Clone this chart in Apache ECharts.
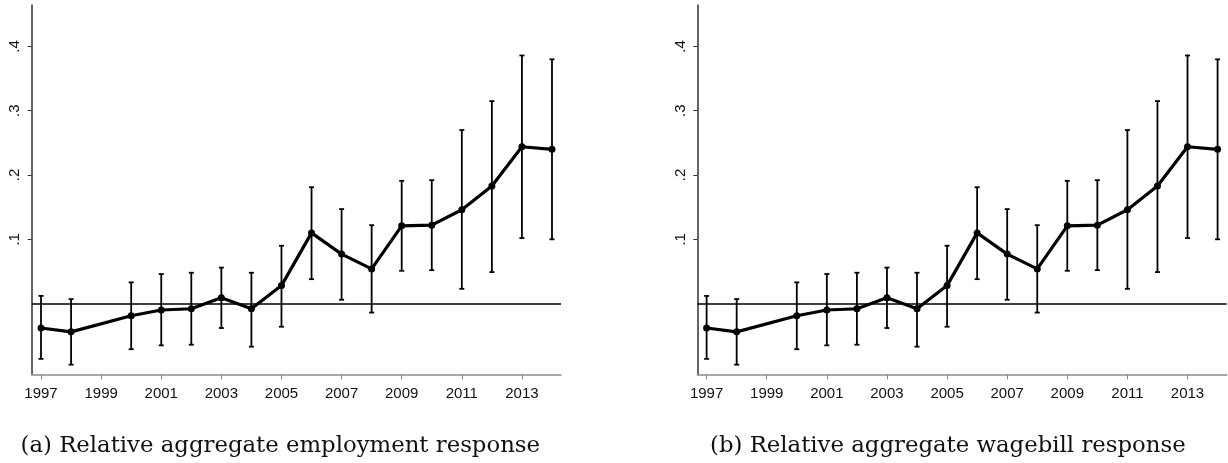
<!DOCTYPE html>
<html>
<head>
<meta charset="utf-8">
<script src="https://cdn.jsdelivr.net/npm/echarts@6/dist/echarts.min.js"></script>
<style>
  html, body { margin: 0; padding: 0; background: #fff; }
  #chart { width: 1228px; height: 463px; }
</style>
</head>
<body>
<div id="chart"></div>
<script>
// Event-study years (1999 is the omitted base year)
const years = [1997, 1998, 2000, 2001, 2002, 2003, 2004, 2005, 2006, 2007, 2008, 2009, 2010, 2011, 2012, 2013, 2014];

// (a) employment: point estimates and 95% confidence bounds
const empEstimate = [-0.038, -0.044, -0.019, -0.010, -0.008, 0.009, -0.008, 0.028, 0.110, 0.077, 0.054, 0.121, 0.122, 0.146, 0.183, 0.244, 0.240];
const empLower    = [-0.086, -0.095, -0.071, -0.065, -0.064, -0.038, -0.067, -0.036, 0.038, 0.006, -0.014, 0.051, 0.052, 0.023, 0.049, 0.102, 0.100];
const empUpper    = [0.012, 0.007, 0.033, 0.046, 0.048, 0.056, 0.048, 0.090, 0.181, 0.147, 0.122, 0.191, 0.192, 0.270, 0.315, 0.386, 0.380];

// (b) wagebill: point estimates and 95% confidence bounds
const wageEstimate = [-0.038, -0.044, -0.019, -0.010, -0.008, 0.009, -0.008, 0.028, 0.110, 0.077, 0.054, 0.121, 0.122, 0.146, 0.183, 0.244, 0.240];
const wageLower    = [-0.086, -0.095, -0.071, -0.065, -0.064, -0.038, -0.067, -0.036, 0.038, 0.006, -0.014, 0.051, 0.052, 0.023, 0.049, 0.102, 0.100];
const wageUpper    = [0.012, 0.007, 0.033, 0.046, 0.048, 0.056, 0.048, 0.090, 0.181, 0.147, 0.122, 0.191, 0.192, 0.270, 0.315, 0.386, 0.380];

// Axis ticks and labels
const xTickYears = [1997, 1999, 2001, 2003, 2005, 2007, 2009, 2011, 2013];
const yTickValues = [0.1, 0.2, 0.3, 0.4];

const captions = ['(a) Relative aggregate employment response', '(b) Relative aggregate wagebill response'];

const X_MIN = 1996.69, X_MAX = 2014.3;
const Y_MIN = -0.11, Y_MAX = 0.4645;

const sansFont = '"Liberation Sans", Arial, sans-serif';
const serifFont = '"DejaVu Serif", "Liberation Serif", serif';

function pairs(vals) { return years.map((y, i) => [y, vals[i]]); }
function intervals(lo, hi) { return years.map((y, i) => [y, lo[i], hi[i]]); }

function xAxisFor(idx) {
  return {
    type: 'value', gridIndex: idx, min: X_MIN, max: X_MAX,
    splitLine: { show: false },
    axisLine: { show: true, onZero: false, lineStyle: { color: '#8a8a8a', width: 1.5 } },
    axisTick: { show: true, customValues: xTickYears, length: 5, lineStyle: { color: '#8a8a8a', width: 1 } },
    axisLabel: {
      customValues: xTickYears, margin: 12, color: '#111',
      fontFamily: sansFont, fontSize: 15,
      formatter: v => String(v)
    }
  };
}

function yAxisFor(idx) {
  return {
    type: 'value', gridIndex: idx, min: Y_MIN, max: Y_MAX,
    splitLine: { show: false },
    axisLine: { show: true, lineStyle: { color: '#333', width: 1.5 } },
    axisTick: { show: true, customValues: yTickValues, length: 4, lineStyle: { color: '#333', width: 1 } },
    axisLabel: {
      customValues: yTickValues, rotate: 90, margin: 9, color: '#111',
      fontFamily: sansFont, fontSize: 15,
      formatter: v => v.toFixed(1).replace(/^0/, '')
    }
  };
}

function errorBars(idx, lo, hi) {
  return {
    type: 'custom', xAxisIndex: idx, yAxisIndex: idx, z: 3,
    data: intervals(lo, hi),
    renderItem: (params, api) => {
      const top = api.coord([api.value(0), api.value(2)]);
      const bot = api.coord([api.value(0), api.value(1)]);
      const cap = 2.5;
      const style = { stroke: '#000', lineWidth: 1.8 };
      return {
        type: 'group',
        children: [
          { type: 'line', shape: { x1: top[0], y1: top[1], x2: bot[0], y2: bot[1] }, style },
          { type: 'line', shape: { x1: top[0] - cap, y1: top[1], x2: top[0] + cap, y2: top[1] }, style },
          { type: 'line', shape: { x1: bot[0] - cap, y1: bot[1], x2: bot[0] + cap, y2: bot[1] }, style }
        ]
      };
    }
  };
}

function estimateLine(idx, vals) {
  return {
    type: 'line', xAxisIndex: idx, yAxisIndex: idx, z: 4,
    data: pairs(vals),
    symbol: 'circle', symbolSize: 7,
    itemStyle: { color: '#000' },
    lineStyle: { color: '#000', width: 3.2 },
    markLine: {
      silent: true, symbol: 'none', label: { show: false },
      lineStyle: { color: '#000', width: 1.6, type: 'solid' },
      data: [{ yAxis: 0 }]
    }
  };
}

const chart = echarts.init(document.getElementById('chart'), null, { renderer: 'canvas' });
chart.setOption({
  animation: false,
  backgroundColor: '#fff',
  grid: [
    { left: 31.7, top: 5, width: 529.3, height: 369.3 },
    { left: 697.3, top: 5, width: 529.3, height: 369.3 }
  ],
  xAxis: [xAxisFor(0), xAxisFor(1)],
  yAxis: [yAxisFor(0), yAxisFor(1)],
  graphic: [
    { type: 'text', x: 20.5, y: 446, style: { text: captions[0], font: '22.8px ' + serifFont, fill: '#111', verticalAlign: 'middle' } },
    { type: 'text', x: 710, y: 446, style: { text: captions[1], font: '22.8px ' + serifFont, fill: '#111', verticalAlign: 'middle' } }
  ],
  series: [
    errorBars(0, empLower, empUpper),
    estimateLine(0, empEstimate),
    errorBars(1, wageLower, wageUpper),
    estimateLine(1, wageEstimate)
  ]
});
</script>
</body>
</html>
